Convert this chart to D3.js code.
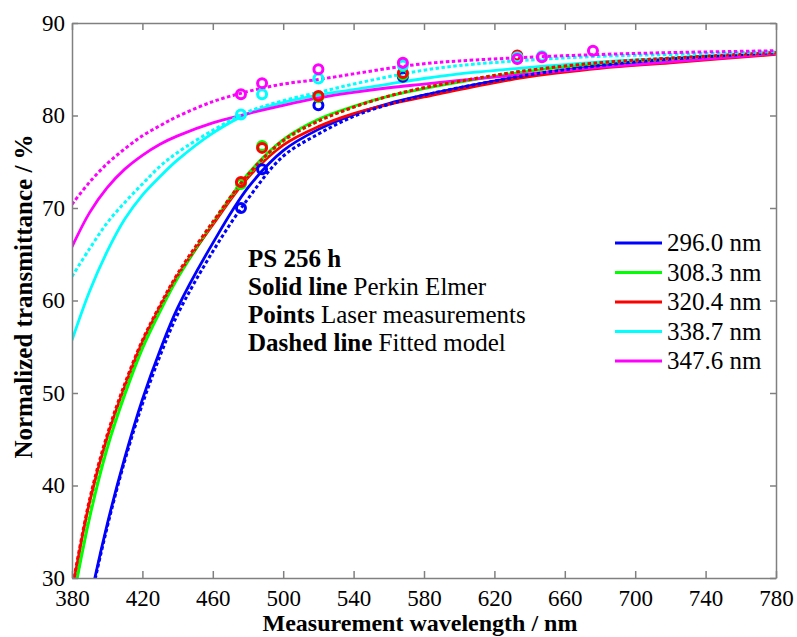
<!DOCTYPE html>
<html>
<head>
    <title>Normalized transmittance</title>
    <script src="https://d3js.org/d3.v7.min.js"></script>
    <style>
        body { margin: 0; background: #fff; }
        svg, svg text { font-family: "Liberation Serif", "Times New Roman", serif; }
        .axis path, .axis line { stroke: #808080; stroke-width: 1.5px; }
        .axis text { font-size: 23px; fill: #000; font-family: "Liberation Serif", "Times New Roman", serif; }
        .curve { fill: none; stroke-width: 2.8px; }
        .fit { fill: none; stroke-width: 3px; stroke-dasharray: 3.5,2.5; }
        .pt { fill: none; stroke-width: 3px; }
    </style>
</head>
<body>
    <div id="chart"></div>

    <script>
        // wavelength grid (nm) the curves were read at
        const gridNm = [380, 390, 400, 410, 420, 430, 440, 460, 480, 500, 520, 540, 560, 580, 600, 640, 680, 720, 780];

        const seriesLabels = ["296.0 nm", "308.3 nm", "320.4 nm", "338.7 nm", "347.6 nm"];
        const colors = ["#0000ff", "#00ff00", "#ff0000", "#00ffff", "#ff00ff"];

        // solid lines: Perkin Elmer
        const perkin296 = [17.0, 27.3, 35.8, 43.0, 49.3, 54.6, 59.2, 66.2, 72.2, 76.2, 78.5, 80.1, 81.3, 82.2, 83.0, 84.4, 85.4, 86.1, 86.7];
        const perkin308 = [27.0, 36.5, 44.0, 49.8, 54.8, 58.8, 62.4, 68.3, 73.7, 77.4, 79.6, 81.0, 82.1, 82.9, 83.6, 84.8, 85.6, 86.1, 86.8];
        const perkin320 = [28.5, 38.2, 45.2, 50.7, 55.5, 59.3, 62.7, 68.2, 73.3, 76.8, 78.8, 80.2, 81.2, 82.0, 82.8, 84.2, 85.1, 85.7, 86.6];
        const perkin338 = [55.7, 61.0, 65.3, 68.8, 71.4, 73.4, 75.2, 78.1, 80.2, 81.4, 82.2, 82.8, 83.4, 84.0, 84.5, 85.2, 85.8, 86.2, 86.8];
        const perkin347 = [65.8, 69.5, 72.2, 74.2, 75.7, 76.9, 77.8, 79.2, 80.2, 81.1, 81.9, 82.5, 83.0, 83.4, 83.8, 84.5, 85.2, 85.8, 86.7];

        // dashed lines: fitted model
        const model296 = [16.5, 27.0, 35.5, 42.7, 48.8, 54.0, 58.5, 65.3, 71.0, 75.6, 78.0, 79.9, 81.2, 82.2, 83.0, 84.4, 85.4, 86.1, 86.8];
        const model308 = [27.3, 36.8, 44.3, 50.1, 55.0, 59.0, 62.6, 68.4, 73.5, 77.2, 79.4, 80.9, 82.1, 83.0, 83.7, 84.9, 85.7, 86.2, 86.8];
        const model320 = [28.8, 38.5, 45.5, 51.0, 55.7, 59.5, 62.9, 68.5, 73.6, 77.3, 79.4, 80.9, 82.1, 83.0, 83.7, 84.9, 85.7, 86.2, 86.8];
        const model338 = [62.6, 65.6, 68.4, 70.6, 72.6, 74.5, 76.0, 78.4, 80.4, 81.6, 82.5, 83.4, 84.2, 84.9, 85.4, 86.0, 86.4, 86.6, 86.9];
        const model347 = [70.4, 72.8, 74.8, 76.4, 77.8, 78.9, 79.9, 81.5, 82.6, 83.4, 83.9, 84.5, 85.1, 85.6, 85.9, 86.3, 86.6, 86.8, 87.0];

        // points: laser measurements
        const laserNm = [476, 488, 520, 568, 633, 647, 676];
        const laser296 = [70.0, 74.2, 81.1, 84.2, 86.2, null, null];
        const laser308 = [72.6, 76.7, 82.0, 84.4, 86.3, null, null];
        const laser320 = [72.8, 76.5, 82.1, 84.6, 86.5, null, null];
        const laser338 = [80.1, 82.3, 84.0, 85.4, 86.3, 86.4, null];
        const laser347 = [82.3, 83.5, 85.0, 85.7, 86.1, 86.3, 87.0];

        const xTicks = [380, 420, 460, 500, 540, 580, 620, 660, 700, 740, 780];
        const yTicks = [30, 40, 50, 60, 70, 80, 90];

        const notes = [
            ["PS 256 h", ""],
            ["Solid line", " Perkin Elmer"],
            ["Points", " Laser measurements"],
            ["Dashed line", " Fitted model"]
        ];

        const perkin = [perkin296, perkin308, perkin320, perkin338, perkin347];
        const model = [model296, model308, model320, model338, model347];
        const laser = [laser296, laser308, laser320, laser338, laser347];

        const W = 797, H = 637;
        const margin = { top: 23, right: 21, bottom: 59, left: 72 };
        const width = W - margin.left - margin.right,
            height = H - margin.top - margin.bottom;

        const x = d3.scaleLinear().domain([380, 780]).range([0, width]);
        const y = d3.scaleLinear().domain([30, 90]).range([height, 0]);

        const svg = d3.select("#chart").append("svg")
            .attr("width", W)
            .attr("height", H);

        const g = svg.append("g")
            .attr("transform", `translate(${margin.left},${margin.top})`);

        g.append("clipPath").attr("id", "plot-clip")
            .append("rect").attr("width", width).attr("height", height);

        const line = d3.line()
            .x((d, i) => x(gridNm[i]))
            .y(d => y(d))
            .curve(d3.curveCatmullRom.alpha(0.5));

        const plot = g.append("g").attr("clip-path", "url(#plot-clip)");

        perkin.forEach(function(s, i) {
            plot.append("path")
                .datum(s)
                .attr("class", "curve")
                .style("stroke", colors[i])
                .attr("d", line);
        });

        model.forEach(function(s, i) {
            plot.append("path")
                .datum(s)
                .attr("class", "fit")
                .style("stroke", colors[i])
                .attr("d", line);
        });

        laser.forEach(function(s, i) {
            plot.selectAll(null)
                .data(s.map((v, j) => [laserNm[j], v]).filter(d => d[1] != null))
                .enter().append("circle")
                .attr("class", "pt")
                .attr("cx", d => x(d[0]))
                .attr("cy", d => y(d[1]))
                .attr("r", 4.5)
                .style("stroke", colors[i]);
        });

        // axes with inward ticks on all four sides
        g.append("g")
            .attr("class", "axis")
            .attr("transform", `translate(0,${height})`)
            .call(d3.axisBottom(x).tickValues(xTicks).tickSizeInner(-7).tickSizeOuter(0).tickPadding(12));

        g.append("g")
            .attr("class", "axis")
            .call(d3.axisTop(x).tickValues(xTicks).tickSizeInner(-7).tickSizeOuter(0).tickFormat(""));

        g.append("g")
            .attr("class", "axis")
            .call(d3.axisLeft(y).tickValues(yTicks).tickSizeInner(-6).tickSizeOuter(0).tickPadding(7));

        g.append("g")
            .attr("class", "axis")
            .attr("transform", `translate(${width},0)`)
            .call(d3.axisRight(y).tickValues(yTicks).tickSizeInner(-6).tickSizeOuter(0).tickFormat(""));

        g.selectAll(".axis")
            .attr("font-family", "Liberation Serif, Times New Roman, serif")
            .attr("font-size", 23);

        // axis titles
        svg.append("text")
            .attr("x", margin.left + width / 2 - 4)
            .attr("y", 631)
            .attr("text-anchor", "middle")
            .style("font-size", "24px")
            .style("font-weight", "bold")
            .text("Measurement wavelength / nm");

        svg.append("text")
            .attr("transform", `translate(32,${margin.top + height / 2 - 4}) rotate(-90)`)
            .attr("text-anchor", "middle")
            .style("font-size", "25px")
            .style("font-weight", "bold")
            .text("Normalized transmittance / %");

        // annotation
        const note = svg.append("text")
            .style("font-size", "25px");
        notes.forEach(function(n, i) {
            note.append("tspan")
                .attr("x", 248)
                .attr("y", 267 + i * 28)
                .style("font-weight", "bold")
                .text(n[0]);
            note.append("tspan")
                .text(n[1]);
        });

        // legend
        const legend = svg.selectAll(".legend")
            .data(seriesLabels)
            .enter().append("g")
            .attr("class", "legend")
            .attr("transform", (d, i) => `translate(615,${243 + i * 29.5})`);

        legend.append("line")
            .attr("x1", 0).attr("x2", 47)
            .attr("stroke", (d, i) => colors[i])
            .attr("stroke-width", 3);

        legend.append("text")
            .attr("x", 52)
            .attr("dy", "0.33em")
            .style("font-size", "25px")
            .text(d => d);
    </script>
</body>
</html>
